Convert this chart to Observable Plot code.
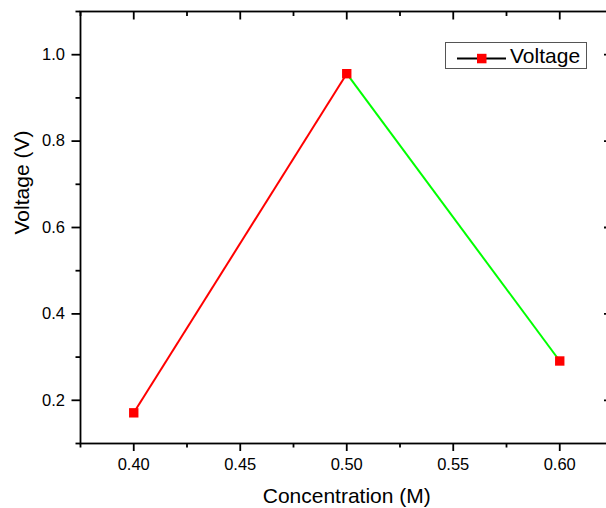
<!DOCTYPE html>
<html>
<head>
<meta charset="utf-8">
<script src="https://cdn.jsdelivr.net/npm/d3@7"></script>
<script src="https://cdn.jsdelivr.net/npm/@observablehq/plot@0.6"></script>
<style>
  html, body { margin: 0; padding: 0; background: #fff; overflow: hidden; }
  #wrap { position: relative; width: 606px; height: 508px; overflow: hidden; }
  #wrap > svg { max-width: none !important; width: 614px; height: 508px; display: block; }
  #legend { position: absolute; left: 445px; top: 42px; width: 142px; height: 27px;
    border: 1px solid #555; background: #fff; box-sizing: border-box;
    font-family: "Liberation Sans", Arial, sans-serif; font-size: 21px; color: #000; }
  #legend svg { position: absolute; left: 0; top: 0; }
  #legend span { position: absolute; left: 64px; top: 1px; line-height: 23px; }
</style>
</head>
<body>
<div id="wrap"></div>
<script>
// Data
const concentration = [0.40, 0.50, 0.60];
const voltage = [0.171, 0.956, 0.291];
const segmentColors = ["#ff0000", "#00ff00"];
const markerColor = "#ff0000";
const seriesName = "Voltage";
const xLabel = "Concentration (M)";
const yLabel = "Voltage (V)";
const xMajorTicks = [0.40, 0.45, 0.50, 0.55, 0.60];
const xMinorTicks = [0.375, 0.425, 0.475, 0.525, 0.575, 0.625];
const yMajorTicks = [0.2, 0.4, 0.6, 0.8, 1.0];
const yMinorTicks = [0.1, 0.3, 0.5, 0.7, 0.9, 1.1];

const points = concentration.map((x, i) => ({x, y: voltage[i]}));
const segments = segmentColors.map((c, i) => ({
  x1: concentration[i], y1: voltage[i], x2: concentration[i + 1], y2: voltage[i + 1], color: c
}));

const W = 614, H = 508, mL = 80, mR = 1.5, mT = 11, mB = 65;
const plotW = W - mL - mR, plotH = H - mT - mB;

const chart = Plot.plot({
  width: W, height: H,
  marginLeft: mL, marginRight: mR, marginTop: mT, marginBottom: mB,
  style: { fontFamily: "Liberation Sans, Arial, sans-serif", fontSize: "16.5px", color: "#000", background: "#fff" },
  x: { domain: [0.375, 0.625] },
  y: { domain: [0.1, 1.1] },
  color: { type: "identity" },
  marks: [
    Plot.axisX(xMajorTicks, { tickSize: 8, tickPadding: 7, strokeWidth: 1.8, fontSize: 16.5, tickFormat: d3.format(".2f"), label: null }),
    Plot.axisX(xMinorTicks, { tickSize: 4.5, strokeWidth: 1.8, tickFormat: () => "", label: null }),
    Plot.axisY(yMajorTicks, { tickSize: 8.5, tickPadding: 7, strokeWidth: 1.8, fontSize: 16.5, tickFormat: d3.format(".1f"), label: null }),
    Plot.axisY(yMinorTicks, { tickSize: 4.5, strokeWidth: 1.8, tickFormat: () => "", label: null }),
    // inward ticks on top and right
    Plot.ruleX(xMajorTicks, { x: d => d, insetBottom: plotH - 8.5, strokeWidth: 1.8 }),
    Plot.ruleX(xMinorTicks, { x: d => d, insetBottom: plotH - 5, strokeWidth: 1.8 }),
    Plot.ruleY(yMajorTicks, { y: d => d, insetLeft: plotW - 8.5, strokeWidth: 1.8 }),
    Plot.ruleY(yMinorTicks, { y: d => d, insetLeft: plotW - 5, strokeWidth: 1.8 }),
    Plot.frame({ stroke: "#000", strokeWidth: 1.8 }),
    Plot.link(segments, { x1: "x1", y1: "y1", x2: "x2", y2: "y2", stroke: "color", strokeWidth: 2 }),
    Plot.dot(points, { x: "x", y: "y", symbol: "square", r: 5.3, fill: markerColor }),
    Plot.text([xLabel], { frameAnchor: "bottom", dy: 53, fontSize: 21, lineAnchor: "middle" }),
    Plot.text([yLabel], { frameAnchor: "left", rotate: -90, dx: -58, dy: 7, fontSize: 21, lineAnchor: "middle" })
  ]
});

const wrap = document.getElementById("wrap");
wrap.appendChild(chart);

// Legend
const legend = document.createElement("div");
legend.id = "legend";
legend.innerHTML =
  `<svg width="64" height="27"><line x1="11" y1="15.5" x2="60" y2="15.5" stroke="#000" stroke-width="2"/>` +
  `<rect x="31" y="10.8" width="9.5" height="9.5" fill="${markerColor}"/></svg><span>${seriesName}</span>`;
wrap.appendChild(legend);
</script>
</body>
</html>
